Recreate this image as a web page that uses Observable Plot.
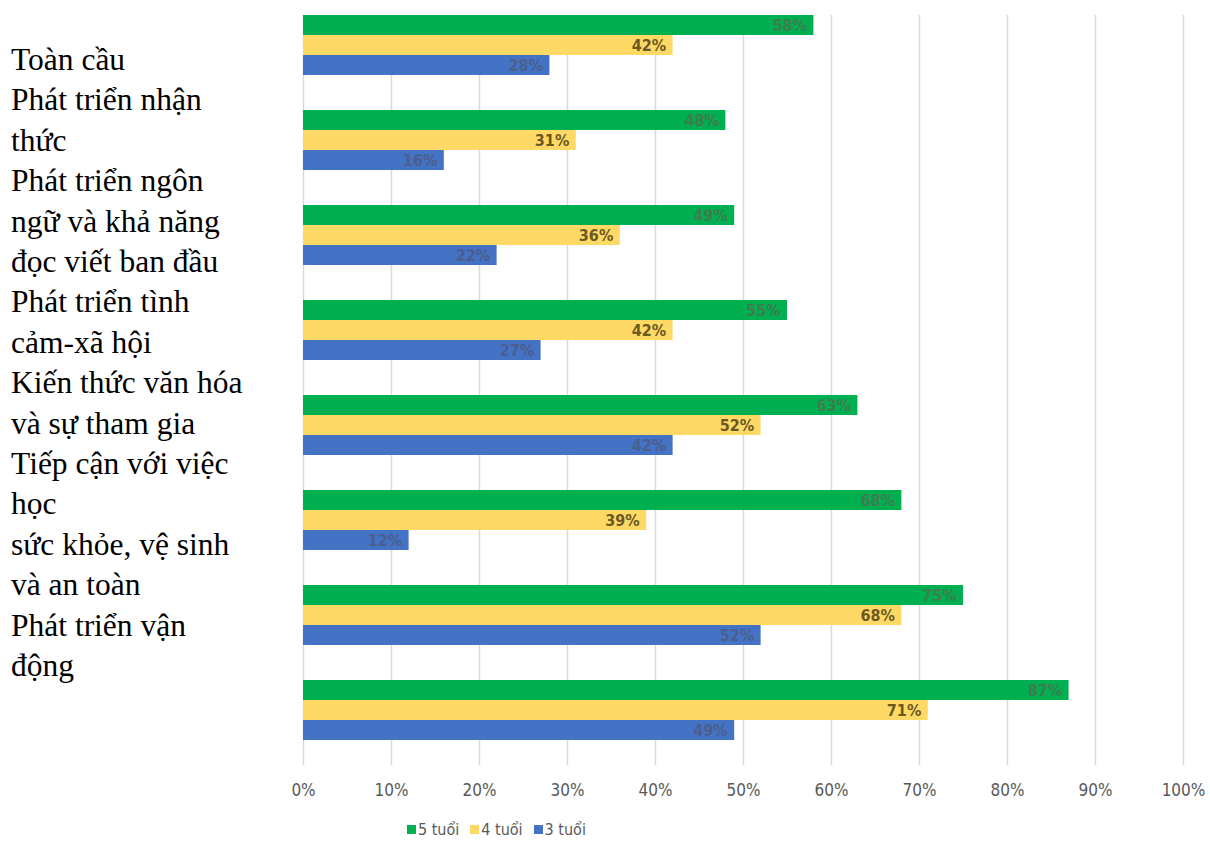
<!DOCTYPE html>
<html><head><meta charset="utf-8">
<script src="https://cdn.jsdelivr.net/npm/d3@7"></script>
<script src="https://cdn.jsdelivr.net/npm/@observablehq/plot@0.6"></script>
<style>
  html,body{margin:0;padding:0;background:#fff;}
  body{width:1210px;height:859px;position:relative;overflow:hidden;}
  #labels{position:absolute;left:11px;top:40px;width:240px;font-family:"Liberation Serif","Times New Roman",serif;font-size:31.5px;line-height:40.4px;color:#000;}
  #chart{position:absolute;left:0;top:0;}
  #legend{position:absolute;left:407px;top:820px;display:flex;gap:11px;font-family:"Liberation Sans Narrow","DejaVu Sans Condensed","Liberation Sans",sans-serif;font-size:16px;color:#595959;}
  #legend span.sw{display:inline-block;width:9px;height:9px;margin-right:2px;vertical-align:middle;position:relative;top:-1px;}
</style>
</head><body>
<div id="labels"></div>
<div id="chart"></div>
<div id="legend"></div>
<script>
const categories = [
  "Toàn cầu",
  "Phát triển nhận thức",
  "Phát triển ngôn ngữ và khả năng đọc viết ban đầu",
  "Phát triển tình cảm-xã hội",
  "Kiến thức văn hóa và sự tham gia",
  "Tiếp cận với việc học",
  "sức khỏe, vệ sinh và an toàn",
  "Phát triển vận động"
];
const series = ["5 tuổi", "4 tuổi", "3 tuổi"];
const age5 = [58, 48, 49, 55, 63, 68, 75, 87];
const age4 = [42, 31, 36, 42, 52, 39, 68, 71];
const age3 = [28, 16, 22, 27, 42, 12, 52, 49];
const seriesValues = [age5, age4, age3];
const colors = ["#00B050", "#FFD966", "#4472C4"];
const labelColors = ["#3d7d4f", "#6b5a22", "#4a5f8e"];
const xTicks = [0, 10, 20, 30, 40, 50, 60, 70, 80, 90, 100];

const tickFont = '"Liberation Sans Narrow","DejaVu Sans Condensed","Liberation Sans",sans-serif';

// left-hand text block
const lab = document.getElementById("labels");
categories.forEach(c => { const d = document.createElement("div"); d.textContent = c; lab.appendChild(d); });

const rows = series.map((s, i) => categories.map((c, j) => ({category: c, series: s, value: seriesValues[i][j]})));

const chart = Plot.plot({
  width: 1210,
  height: 810,
  marginLeft: 303,
  marginRight: 27,
  marginTop: 15,
  marginBottom: 45,
  style: {background: "transparent", fontFamily: tickFont},
  x: {domain: [0, 100], label: null},
  y: {domain: categories, range: [15, 740], paddingInner: 0.3684, paddingOuter: 0, axis: null, round: false, label: null},
  marks: [
    Plot.gridX(xTicks, {stroke: "#d9d9d9", strokeOpacity: 1, strokeWidth: 1.5}),
    Plot.axisX(xTicks, {tickSize: 0, tickPadding: 18, tickFormat: d => d + "%", fontSize: 17, fill: "#595959", stroke: null, label: null}),
    ...rows.map((r, i) => Plot.barX(r, {
      x: "value", y: "category", fill: colors[i],
      insetTop: i * 20, insetBottom: (2 - i) * 20
    })),
    ...rows.map((r, i) => Plot.text(r, {
      x: "value", y: "category", text: d => d.value + "%",
      textAnchor: "end", dx: -7, dy: (i - 1) * 20,
      fill: labelColors[i], fontSize: 16, fontWeight: "bold", fontFamily: tickFont
    }))
  ]
});
document.getElementById("chart").appendChild(chart);

// legend
const leg = document.getElementById("legend");
series.forEach((s, i) => {
  const it = document.createElement("div");
  const sw = document.createElement("span"); sw.className = "sw"; sw.style.background = colors[i];
  it.appendChild(sw); it.appendChild(document.createTextNode(s));
  leg.appendChild(it);
});
</script>
</body></html>
